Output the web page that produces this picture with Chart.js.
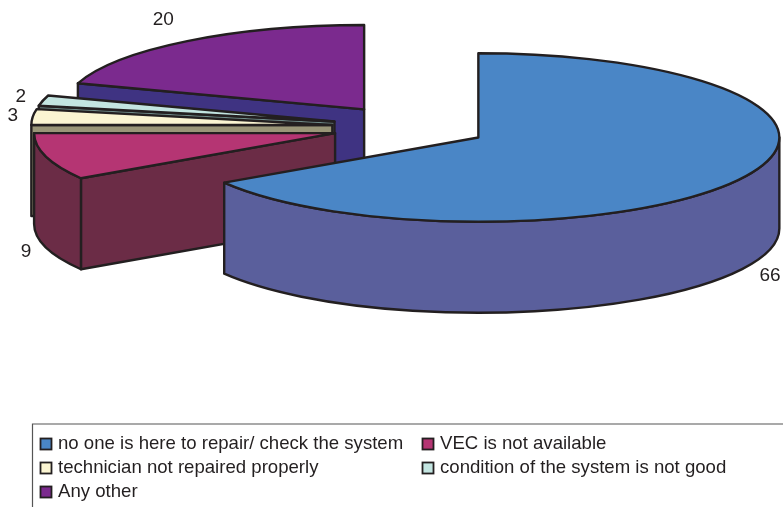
<!DOCTYPE html>
<html>
<head>
<meta charset="utf-8">
<title>Reasons</title>
<style>
   html,body{margin:0;padding:0;background:#fff;}
   canvas{display:block;}
</style>
<script src="https://cdn.jsdelivr.net/npm/chart.js@4/dist/chart.umd.min.js"></script>
</head>
<body>
<canvas id="pie3d" width="783" height="507"></canvas>
<script>
const categories = [
   "no one is here to repair/ check the system",
   "VEC is not available",
   "technician not repaired properly",
   "condition of the system is not good",
   "Any other"
];
const values = [66, 9, 3, 2, 20];

const topColors = ["#4A86C6", "#B53573", "#FBF5D2", "#C3E5E1", "#7B2A8E"];
const sideColors = ["#5A5F9C", "#6B2C46", "#9A9678", "#6F8A88", "#3F3382"];

/* nudge of each value label from the rim of its slice */
const labelShift = [[28, 98], [-20, 95], [-20, -1], [-22, -4], [-24, -21]];

const INK = "#231F20";
const RADIUS = 301;
const TILT = 0.28;
const DEPTH = 91;
const EXPLODE = 78;

function sliceCenter(arc){
   let mid = (arc.startAngle + arc.endAngle) / 2;
   return {
      x: arc.x + Math.cos(mid) * EXPLODE,
      y: arc.y + Math.sin(mid) * EXPLODE * TILT
   };
}

function drawSides(ctx, arc, c, color){
   let r = arc.outerRadius;
   let ry = r * TILT;

   ctx.fillStyle = color;
   ctx.strokeStyle = INK;
   ctx.lineWidth = 2.4;
   ctx.lineJoin = "round";

   /* flat cut faces that look toward the viewer */
   [
      {a: arc.startAngle, show: Math.cos(arc.startAngle) < -1e-6},
      {a: arc.endAngle, show: Math.cos(arc.endAngle) > 1e-6}
   ].forEach(function(f){
      if(!f.show) return;
      let px = c.x + Math.cos(f.a) * r;
      let py = c.y + Math.sin(f.a) * ry;
      ctx.beginPath();
      ctx.moveTo(c.x, c.y);
      ctx.lineTo(px, py);
      ctx.lineTo(px, py + DEPTH);
      ctx.lineTo(c.x, c.y + DEPTH);
      ctx.closePath();
      ctx.fill();
      ctx.stroke();
   });

   /* curved outer wall, front half only */
   let from = Math.max(arc.startAngle, 0);
   let to = Math.min(arc.endAngle, Math.PI);
   if(to > from){
      ctx.beginPath();
      ctx.ellipse(c.x, c.y, r, ry, 0, from, to);
      ctx.ellipse(c.x, c.y + DEPTH, r, ry, 0, to, from, true);
      ctx.closePath();
      ctx.fill();
      ctx.stroke();
   }
}

function drawTop(ctx, arc, c){
   let mid = (arc.startAngle + arc.endAngle) / 2;

   ctx.save();
   ctx.translate(0, arc.y);
   ctx.scale(1, TILT);
   ctx.translate(0, -arc.y);
   ctx.translate(Math.cos(mid) * EXPLODE, Math.sin(mid) * EXPLODE);
   arc.draw(ctx);
   ctx.restore();

   ctx.beginPath();
   ctx.moveTo(c.x, c.y);
   ctx.ellipse(c.x, c.y, arc.outerRadius, arc.outerRadius * TILT, 0, arc.startAngle, arc.endAngle);
   ctx.closePath();
   ctx.strokeStyle = INK;
   ctx.lineWidth = 2.4;
   ctx.lineJoin = "round";
   ctx.stroke();
}

const tiltedPie = {
   id: "tiltedPie",
   beforeDatasetDraw: function(chart, args){
      let ctx = chart.ctx;
      let arcs = args.meta.data;

      /* back slices first, the big front slice last */
      for(let i = arcs.length - 1; i >= 0; i--){
         let c = sliceCenter(arcs[i]);
         ctx.save();
         drawSides(ctx, arcs[i], c, sideColors[i]);
         drawTop(ctx, arcs[i], c);
         ctx.restore();
      }

      ctx.save();
      ctx.font = "19px 'Liberation Sans'";
      ctx.fillStyle = INK;
      ctx.textAlign = "center";
      ctx.textBaseline = "middle";
      arcs.forEach(function(arc, i){
         let c = sliceCenter(arc);
         let mid = (arc.startAngle + arc.endAngle) / 2;
         ctx.fillText(
            String(values[i]),
            c.x + Math.cos(mid) * arc.outerRadius + labelShift[i][0],
            c.y + Math.sin(mid) * arc.outerRadius * TILT + labelShift[i][1]
         );
      });
      ctx.restore();

      return false;
   }
};

const boxedLegend = {
   id: "boxedLegend",
   afterDraw: function(chart){
      let ctx = chart.ctx;
      let slots = [[40, 444], [422, 444], [40, 468], [422, 468], [40, 492]];

      ctx.save();
      ctx.strokeStyle = "#555555";
      ctx.lineWidth = 1.2;
      ctx.beginPath();
      ctx.moveTo(783, 424);
      ctx.lineTo(32.5, 424);
      ctx.lineTo(32.5, 507);
      ctx.stroke();

      ctx.font = "18.6px 'Liberation Sans'";
      ctx.textBaseline = "middle";
      ctx.textAlign = "left";
      categories.forEach(function(name, i){
         let s = slots[i];
         ctx.fillStyle = topColors[i];
         ctx.strokeStyle = INK;
         ctx.lineWidth = 1.8;
         ctx.fillRect(s[0] + 0.5, s[1] - 5.5, 11, 11);
         ctx.strokeRect(s[0] + 0.5, s[1] - 5.5, 11, 11);
         ctx.fillStyle = INK;
         ctx.fillText(name, s[0] + 18, s[1]);
      });
      ctx.restore();
   }
};

new Chart(document.getElementById("pie3d"), {
   type: "pie",
   data: {
      labels: categories,
      datasets: [{
         data: values,
         backgroundColor: topColors,
         borderWidth: 0,
         radius: RADIUS,
         clip: false
      }]
   },
   options: {
      responsive: false,
      animation: false,
      layout: {
         padding: {left: 37, bottom: 253}
      },
      plugins: {
         legend: {display: false},
         tooltip: {enabled: false}
      }
   },
   plugins: [tiltedPie, boxedLegend]
});
</script>
</body>
</html>
